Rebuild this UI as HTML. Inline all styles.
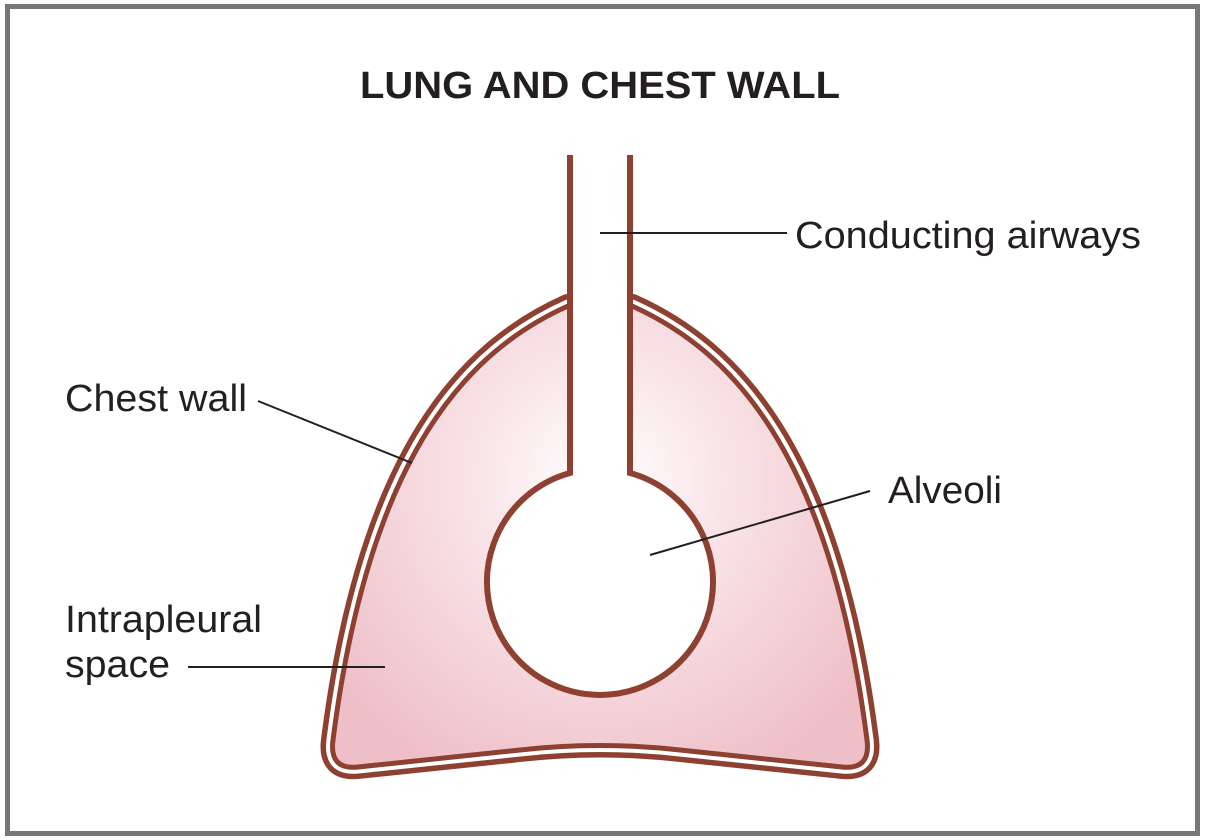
<!DOCTYPE html>
<html><head><style>html,body{margin:0;padding:0;background:#fff}svg{display:block}</style></head>
<body>
<svg width="1212" height="840" viewBox="0 0 1212 840" xmlns="http://www.w3.org/2000/svg">
<defs>
<radialGradient id="g" cx="600" cy="480" r="330" gradientUnits="userSpaceOnUse">
<stop offset="0" stop-color="#ffffff"/>
<stop offset="0.35" stop-color="#f9e6ea"/>
<stop offset="1" stop-color="#efbfc8"/>
</radialGradient>
</defs>
<rect x="0" y="0" width="1212" height="840" fill="#fff"/>
<rect x="7.5" y="6.5" width="1190" height="827" fill="none" stroke="#777" stroke-width="5"/>
<text x="360" y="98" textLength="480" lengthAdjust="spacingAndGlyphs" font-family="Liberation Sans, sans-serif" font-weight="bold" font-size="38" fill="#231f20">LUNG AND CHEST WALL</text>
<path d="M568,306 C470,350 370,450 333,740 Q329,770 358,767 L520,750 Q600,741 680,750 L842,767 Q871,770 867,740 C830,450 730,350 632,306 Z" fill="none" stroke="#8e4031" stroke-width="24" stroke-linejoin="round"/>
<path d="M568,306 C470,350 370,450 333,740 Q329,770 358,767 L520,750 Q600,741 680,750 L842,767 Q871,770 867,740 C830,450 730,350 632,306 Z" fill="none" stroke="#fff" stroke-width="13" stroke-linejoin="round"/>
<path d="M568,306 C470,350 370,450 333,740 Q329,770 358,767 L520,750 Q600,741 680,750 L842,767 Q871,770 867,740 C830,450 730,350 632,306 Z" fill="url(#g)" stroke="#8e4031" stroke-width="5" stroke-linejoin="round"/>
<rect x="572" y="150" width="56" height="330" fill="#fff"/>
<path d="M570,155 L570,473 A113,113 0 1 0 630,473 L630,155" fill="#fff" stroke="#8e4031" stroke-width="6"/>
<rect x="573" y="150" width="54" height="335" fill="#fff"/>
<g stroke="#231f20" stroke-width="2">
<line x1="600" y1="233" x2="787" y2="233"/>
<line x1="258" y1="401" x2="412" y2="463"/>
<line x1="650" y1="555" x2="870" y2="491"/>
<line x1="188" y1="667" x2="385" y2="667"/>
</g>
<g font-family="Liberation Sans, sans-serif" font-size="38" fill="#231f20">
<text x="795" y="248" textLength="346" lengthAdjust="spacingAndGlyphs">Conducting airways</text>
<text x="65" y="411" textLength="182" lengthAdjust="spacingAndGlyphs">Chest wall</text>
<text x="888" y="503" textLength="114" lengthAdjust="spacingAndGlyphs">Alveoli</text>
<text x="65" y="632" textLength="197" lengthAdjust="spacingAndGlyphs">Intrapleural</text>
<text x="65" y="677" textLength="105" lengthAdjust="spacingAndGlyphs">space</text>
</g>
</svg>
</body></html>
